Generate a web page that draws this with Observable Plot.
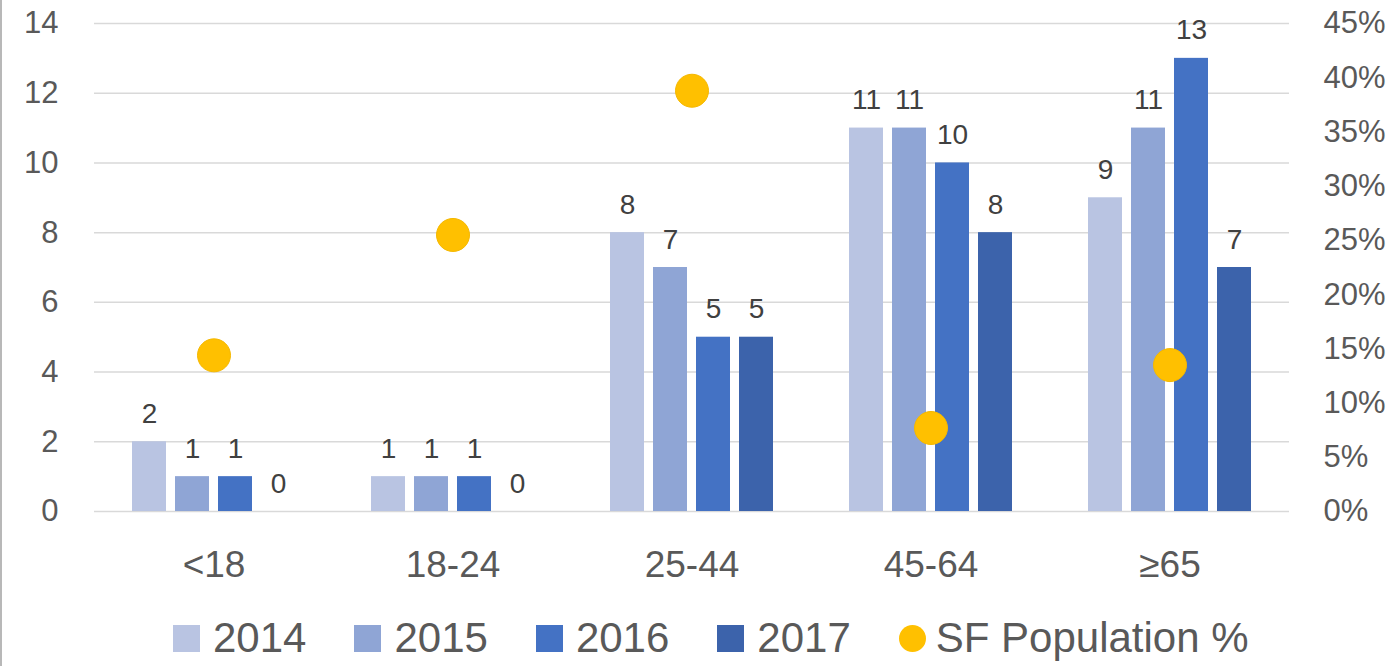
<!DOCTYPE html>
<html>
<head>
<meta charset="utf-8">
<script src="https://cdn.jsdelivr.net/npm/d3@7"></script>
<script src="https://cdn.jsdelivr.net/npm/@observablehq/plot@0.6"></script>
<style>
  html, body { margin: 0; padding: 0; background: #fff; }
  body { width: 1400px; height: 666px; position: relative; overflow: hidden; font-family: "Liberation Sans", Arial, sans-serif; }
  #edge { position: absolute; left: 0; top: 0; width: 2px; height: 666px; background: #B8B8B8; }
  #chart svg { display: block; }
  #legend { position: absolute; left: 173px; top: 610px; height: 56px; display: flex; align-items: center; color: #595959; font-size: 42px; }
  .item { display: flex; align-items: center; margin-right: 48px; }
  .sw { width: 27px; height: 27px; margin-right: 13px; }
  .dotsw { width: 27px; height: 27px; border-radius: 50%; margin-right: 10px; background: #FFC000; }
</style>
</head>
<body>
<div id="edge"></div>
<div id="chart"></div>
<div id="legend"></div>
<script>
// ---- data ----
const ages = ["<18", "18-24", "25-44", "45-64", "≥65"];
const years = ["2014", "2015", "2016", "2017"];
const v2014 = [2, 1, 8, 11, 9];
const v2015 = [1, 1, 7, 11, 11];
const v2016 = [1, 1, 5, 10, 13];
const v2017 = [0, 0, 5, 8, 7];
const sfPopPct = [14.4, 25.5, 38.8, 7.7, 13.5];
const yearColors = ["#B9C4E2", "#8FA5D5", "#4472C4", "#3C63AB"];
const dotColor = "#FFC000";
const leftTicks = [0, 2, 4, 6, 8, 10, 12, 14];
const rightTicks = [0, 5, 10, 15, 20, 25, 30, 35, 40, 45];
const leftMax = 14, rightMax = 45;

// ---- tables ----
const series = [v2014, v2015, v2016, v2017];
const bars = [];
ages.forEach((age, i) => years.forEach((year, j) => bars.push({age, year, value: series[j][i]})));
const pop = ages.map((age, i) => ({age, pct: sfPopPct[i]}));
const toLeft = p => p * leftMax / rightMax;

const chart = Plot.plot({
  width: 1400,
  height: 610,
  marginTop: 23,
  marginBottom: 99,
  marginLeft: 93,
  marginRight: 110,
  style: {fontFamily: "Liberation Sans, Arial, sans-serif", color: "#595959", background: "white"},
  fx: {domain: ages, paddingInner: 0, paddingOuter: 0, label: null},
  x: {domain: years, axis: null, paddingInner: 0.22, paddingOuter: 0.86},
  y: {domain: [0, leftMax], axis: null},
  color: {domain: years, range: yearColors},
  marks: [
    Plot.gridY(leftTicks, {stroke: "#D9D9D9", strokeOpacity: 1, strokeWidth: 1.5}),
    Plot.axisY(leftTicks, {anchor: "left", tickSize: 0, tickPadding: 36, fontSize: 31, label: null}),
    Plot.axisY(rightTicks.map(toLeft), {anchor: "right", tickSize: 0, tickPadding: 34, fontSize: 31, label: null,
      tickFormat: d => Math.round(d * rightMax / leftMax) + "%"}),
    Plot.axisFx({anchor: "bottom", tickSize: 0, tickPadding: 39, fontSize: 37, label: null}),
    Plot.barY(bars, {fx: "age", x: "year", y: "value", fill: "year"}),
    Plot.text(bars, {fx: "age", x: "year", y: "value", text: d => String(d.value), dy: -19, lineAnchor: "bottom", fontSize: 28, fill: "#404040"}),
    Plot.dot(pop, {fx: "age", y: d => toLeft(d.pct), r: 16.5, fill: dotColor, stroke: "#F5B800", strokeWidth: 1})
  ]
});
document.getElementById("chart").appendChild(chart);

// ---- legend ----
const legend = document.getElementById("legend");
years.forEach((y, j) => {
  const it = document.createElement("div");
  it.className = "item";
  const sw = document.createElement("div");
  sw.className = "sw";
  sw.style.background = yearColors[j];
  const t = document.createElement("span");
  t.textContent = y;
  it.append(sw, t);
  legend.appendChild(it);
});
const it = document.createElement("div");
it.className = "item";
const ds = document.createElement("div");
ds.className = "dotsw";
const t = document.createElement("span");
t.textContent = "SF Population %";
it.append(ds, t);
legend.appendChild(it);
</script>
</body>
</html>
